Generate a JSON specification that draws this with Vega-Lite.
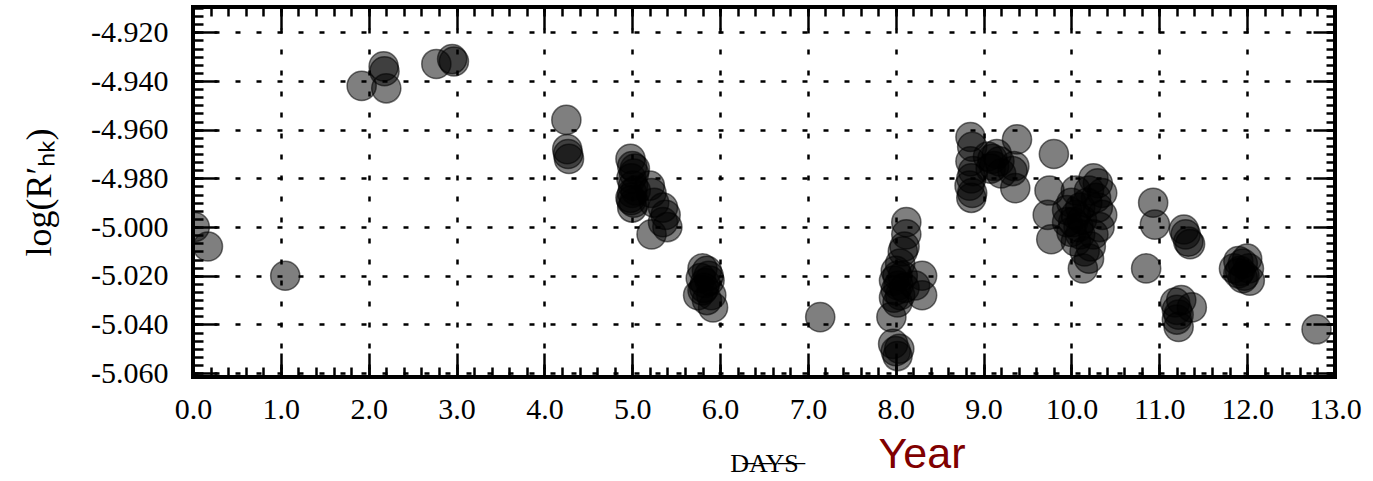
{
  "$schema": "https://vega.github.io/schema/vega-lite/v6.json",
  "width": 1142,
  "height": 370,
  "autosize": "none",
  "padding": {"left": 193, "top": 7, "right": 38, "bottom": 104},
  "background": "white",
  "config": {
    "view": {"stroke": "black", "strokeWidth": 4},
    "axis": {
      "domain": false,
      "labelFont": "Liberation Serif",
      "labelFontSize": 30,
      "labelColor": "black",
      "titleFont": "Liberation Serif",
      "titleColor": "black",
      "titleFontWeight": "normal",
      "tickColor": "black",
      "tickWidth": 2.5
    }
  },
  "title": {
    "text": "Year",
    "orient": "bottom",
    "anchor": "middle",
    "dx": 158,
    "offset": -42,
    "font": "Liberation Sans",
    "fontSize": 43,
    "fontWeight": "normal",
    "color": "#800000"
  },
  "data": {
    "values": [
      {"year": 0.02, "logRHK": -5.000}, {"year": 0.17, "logRHK": -5.008},
      {"year": 1.05, "logRHK": -5.020},
      {"year": 1.92, "logRHK": -4.942}, {"year": 2.17, "logRHK": -4.934}, {"year": 2.18, "logRHK": -4.936}, {"year": 2.20, "logRHK": -4.943},
      {"year": 2.77, "logRHK": -4.933}, {"year": 2.95, "logRHK": -4.931}, {"year": 2.97, "logRHK": -4.932},
      {"year": 4.25, "logRHK": -4.956}, {"year": 4.26, "logRHK": -4.968}, {"year": 4.28, "logRHK": -4.972}, {"year": 4.27, "logRHK": -4.970},
      {"year": 4.98, "logRHK": -4.972}, {"year": 5.00, "logRHK": -4.975}, {"year": 5.02, "logRHK": -4.978}, {"year": 4.99, "logRHK": -4.980},
      {"year": 5.01, "logRHK": -4.983}, {"year": 5.00, "logRHK": -4.986}, {"year": 4.98, "logRHK": -4.988}, {"year": 5.02, "logRHK": -4.990},
      {"year": 5.00, "logRHK": -4.992}, {"year": 5.03, "logRHK": -4.976}, {"year": 5.04, "logRHK": -4.985}, {"year": 4.99, "logRHK": -4.989},
      {"year": 5.20, "logRHK": -4.983}, {"year": 5.22, "logRHK": -4.986}, {"year": 5.25, "logRHK": -4.990}, {"year": 5.35, "logRHK": -4.992},
      {"year": 5.38, "logRHK": -4.995}, {"year": 5.22, "logRHK": -5.003}, {"year": 5.40, "logRHK": -5.000}, {"year": 5.35, "logRHK": -4.998},
      {"year": 5.80, "logRHK": -5.017}, {"year": 5.85, "logRHK": -5.018}, {"year": 5.78, "logRHK": -5.021}, {"year": 5.83, "logRHK": -5.023},
      {"year": 5.88, "logRHK": -5.022}, {"year": 5.80, "logRHK": -5.026}, {"year": 5.75, "logRHK": -5.028}, {"year": 5.90, "logRHK": -5.028},
      {"year": 5.85, "logRHK": -5.030}, {"year": 5.92, "logRHK": -5.033}, {"year": 5.82, "logRHK": -5.025}, {"year": 5.87, "logRHK": -5.020},
      {"year": 7.14, "logRHK": -5.037},
      {"year": 8.12, "logRHK": -4.998}, {"year": 8.12, "logRHK": -5.003}, {"year": 8.10, "logRHK": -5.008}, {"year": 8.08, "logRHK": -5.010},
      {"year": 8.05, "logRHK": -5.015}, {"year": 8.00, "logRHK": -5.018}, {"year": 8.02, "logRHK": -5.020}, {"year": 7.98, "logRHK": -5.022},
      {"year": 8.03, "logRHK": -5.024}, {"year": 8.00, "logRHK": -5.026}, {"year": 8.05, "logRHK": -5.028}, {"year": 7.98, "logRHK": -5.029},
      {"year": 8.02, "logRHK": -5.031}, {"year": 8.08, "logRHK": -5.020}, {"year": 8.10, "logRHK": -5.025}, {"year": 8.30, "logRHK": -5.020},
      {"year": 8.30, "logRHK": -5.028}, {"year": 8.22, "logRHK": -5.024}, {"year": 7.95, "logRHK": -5.037}, {"year": 7.97, "logRHK": -5.048},
      {"year": 8.00, "logRHK": -5.051}, {"year": 8.02, "logRHK": -5.053}, {"year": 8.04, "logRHK": -5.050},
      {"year": 8.85, "logRHK": -4.963}, {"year": 8.87, "logRHK": -4.967}, {"year": 8.85, "logRHK": -4.973}, {"year": 8.88, "logRHK": -4.977},
      {"year": 8.86, "logRHK": -4.980}, {"year": 8.84, "logRHK": -4.983}, {"year": 8.87, "logRHK": -4.986}, {"year": 8.86, "logRHK": -4.988},
      {"year": 9.05, "logRHK": -4.971}, {"year": 9.10, "logRHK": -4.972}, {"year": 9.15, "logRHK": -4.970}, {"year": 9.12, "logRHK": -4.975},
      {"year": 9.18, "logRHK": -4.973}, {"year": 9.20, "logRHK": -4.978}, {"year": 9.08, "logRHK": -4.976}, {"year": 9.38, "logRHK": -4.964},
      {"year": 9.35, "logRHK": -4.975}, {"year": 9.33, "logRHK": -4.977}, {"year": 9.36, "logRHK": -4.984},
      {"year": 9.80, "logRHK": -4.970}, {"year": 9.75, "logRHK": -4.985}, {"year": 9.73, "logRHK": -4.995}, {"year": 9.77, "logRHK": -5.005},
      {"year": 9.95, "logRHK": -4.993}, {"year": 10.00, "logRHK": -4.990}, {"year": 10.05, "logRHK": -4.995}, {"year": 10.02, "logRHK": -4.998},
      {"year": 10.08, "logRHK": -5.000}, {"year": 10.10, "logRHK": -4.992}, {"year": 10.12, "logRHK": -4.997}, {"year": 10.00, "logRHK": -5.002},
      {"year": 10.05, "logRHK": -5.006}, {"year": 10.10, "logRHK": -5.003}, {"year": 10.15, "logRHK": -5.010}, {"year": 10.13, "logRHK": -5.017},
      {"year": 10.20, "logRHK": -5.013}, {"year": 10.20, "logRHK": -4.985}, {"year": 10.25, "logRHK": -4.980}, {"year": 10.30, "logRHK": -4.982},
      {"year": 10.28, "logRHK": -4.988}, {"year": 10.35, "logRHK": -4.986}, {"year": 10.30, "logRHK": -4.992}, {"year": 10.35, "logRHK": -4.995},
      {"year": 10.25, "logRHK": -5.003}, {"year": 10.22, "logRHK": -5.008}, {"year": 10.18, "logRHK": -4.990}, {"year": 10.05, "logRHK": -4.985},
      {"year": 9.95, "logRHK": -4.998}, {"year": 10.32, "logRHK": -5.000},
      {"year": 10.93, "logRHK": -4.990}, {"year": 10.95, "logRHK": -4.999}, {"year": 10.85, "logRHK": -5.017}, {"year": 11.28, "logRHK": -5.001},
      {"year": 11.30, "logRHK": -5.003}, {"year": 11.33, "logRHK": -5.006}, {"year": 11.35, "logRHK": -5.007}, {"year": 11.18, "logRHK": -5.031},
      {"year": 11.20, "logRHK": -5.034}, {"year": 11.22, "logRHK": -5.036}, {"year": 11.20, "logRHK": -5.038}, {"year": 11.22, "logRHK": -5.041},
      {"year": 11.25, "logRHK": -5.030}, {"year": 11.37, "logRHK": -5.033},
      {"year": 11.85, "logRHK": -5.017}, {"year": 11.90, "logRHK": -5.014}, {"year": 11.95, "logRHK": -5.015}, {"year": 12.00, "logRHK": -5.013},
      {"year": 11.92, "logRHK": -5.018}, {"year": 11.97, "logRHK": -5.020}, {"year": 12.02, "logRHK": -5.017}, {"year": 12.03, "logRHK": -5.022},
      {"year": 11.95, "logRHK": -5.021}, {"year": 11.90, "logRHK": -5.019},
      {"year": 12.79, "logRHK": -5.042}
    ]
  },
  "layer": [
    {
      "mark": {"type": "circle", "size": 850, "color": "black", "fillOpacity": 0.5, "stroke": "black", "strokeOpacity": 0.55, "strokeWidth": 1.5, "clip": true},
      "encoding": {
        "x": {
          "field": "year", "type": "quantitative",
          "scale": {"domain": [0, 13], "nice": false, "zero": false},
          "axis": {
            "orient": "bottom",
            "values": [0, 1, 2, 3, 4, 5, 6, 7, 8, 9, 10, 11, 12, 13],
            "format": ".1f",
            "ticks": false,
            "labelPadding": 17,
            "labelFlush": false,
            "grid": true, "gridColor": "black", "gridDash": [5, 16], "gridWidth": 2.5,
            "title": "D̶A̶Y̶S̶",
            "titleFontSize": 26,
            "titlePadding": 26
          }
        },
        "y": {
          "field": "logRHK", "type": "quantitative",
          "scale": {"domain": [-5.0616, -4.9096], "nice": false, "zero": false},
          "axis": {
            "orient": "left",
            "values": [-5.06, -5.04, -5.02, -5.0, -4.98, -4.96, -4.94, -4.92],
            "labelExpr": "replace(format(datum.value, '.3f'), '−', '-')",
            "ticks": false,
            "labelPadding": 25,
            "labelFlush": false,
            "grid": true, "gridColor": "black", "gridDash": [5, 16], "gridWidth": 2.5,
            "title": "log(R′ₕₖ)",
            "titleFontSize": 36,
            "titlePadding": 32
          }
        }
      }
    },
    {
      "mark": {"type": "circle", "opacity": 0},
      "encoding": {
        "x": {"field": "year", "type": "quantitative", "axis": {"orient": "bottom", "values": [0, 1, 2, 3, 4, 5, 6, 7, 8, 9, 10, 11, 12, 13], "labels": false, "grid": false, "tickSize": -24, "title": null}},
        "y": {"field": "logRHK", "type": "quantitative", "axis": {"orient": "left", "values": [-5.06, -5.04, -5.02, -5.0, -4.98, -4.96, -4.94, -4.92], "labels": false, "grid": false, "tickSize": -24, "title": null}}
      }
    },
    {
      "mark": {"type": "circle", "opacity": 0},
      "encoding": {
        "x": {"field": "year", "type": "quantitative", "axis": {"orient": "top", "values": [0, 1, 2, 3, 4, 5, 6, 7, 8, 9, 10, 11, 12, 13], "labels": false, "grid": false, "tickSize": -22, "title": null}},
        "y": {"field": "logRHK", "type": "quantitative", "axis": {"orient": "right", "values": [-5.06, -5.04, -5.02, -5.0, -4.98, -4.96, -4.94, -4.92], "labels": false, "grid": false, "tickSize": -22, "title": null}}
      }
    },
    {
      "mark": {"type": "circle", "opacity": 0},
      "encoding": {
        "x": {"field": "year", "type": "quantitative", "axis": {"orient": "bottom", "values": [0, 0.2, 0.4, 0.6, 0.8, 1, 1.2, 1.4, 1.6, 1.8, 2, 2.2, 2.4, 2.6, 2.8, 3, 3.2, 3.4, 3.6, 3.8, 4, 4.2, 4.4, 4.6, 4.8, 5, 5.2, 5.4, 5.6, 5.8, 6, 6.2, 6.4, 6.6, 6.8, 7, 7.2, 7.4, 7.6, 7.8, 8, 8.2, 8.4, 8.6, 8.8, 9, 9.2, 9.4, 9.6, 9.8, 10, 10.2, 10.4, 10.6, 10.8, 11, 11.2, 11.4, 11.6, 11.8, 12, 12.2, 12.4, 12.6, 12.8, 13], "labels": false, "grid": false, "tickSize": -10, "title": null}},
        "y": {"field": "logRHK", "type": "quantitative", "axis": {"orient": "left", "values": [-5.06, -5.05667, -5.05333, -5.05, -5.04667, -5.04333, -5.04, -5.03667, -5.03333, -5.03, -5.02667, -5.02333, -5.02, -5.01667, -5.01333, -5.01, -5.00667, -5.00333, -5.0, -4.99667, -4.99333, -4.99, -4.98667, -4.98333, -4.98, -4.97667, -4.97333, -4.97, -4.96667, -4.96333, -4.96, -4.95667, -4.95333, -4.95, -4.94667, -4.94333, -4.94, -4.93667, -4.93333, -4.93, -4.92667, -4.92333, -4.92, -4.91667, -4.91333, -4.91], "labels": false, "grid": false, "tickSize": -10, "title": null}}
      }
    },
    {
      "mark": {"type": "circle", "opacity": 0},
      "encoding": {
        "x": {"field": "year", "type": "quantitative", "axis": {"orient": "top", "values": [0, 0.2, 0.4, 0.6, 0.8, 1, 1.2, 1.4, 1.6, 1.8, 2, 2.2, 2.4, 2.6, 2.8, 3, 3.2, 3.4, 3.6, 3.8, 4, 4.2, 4.4, 4.6, 4.8, 5, 5.2, 5.4, 5.6, 5.8, 6, 6.2, 6.4, 6.6, 6.8, 7, 7.2, 7.4, 7.6, 7.8, 8, 8.2, 8.4, 8.6, 8.8, 9, 9.2, 9.4, 9.6, 9.8, 10, 10.2, 10.4, 10.6, 10.8, 11, 11.2, 11.4, 11.6, 11.8, 12, 12.2, 12.4, 12.6, 12.8, 13], "labels": false, "grid": false, "tickSize": -9, "title": null}},
        "y": {"field": "logRHK", "type": "quantitative", "axis": {"orient": "right", "values": [-5.06, -5.05667, -5.05333, -5.05, -5.04667, -5.04333, -5.04, -5.03667, -5.03333, -5.03, -5.02667, -5.02333, -5.02, -5.01667, -5.01333, -5.01, -5.00667, -5.00333, -5.0, -4.99667, -4.99333, -4.99, -4.98667, -4.98333, -4.98, -4.97667, -4.97333, -4.97, -4.96667, -4.96333, -4.96, -4.95667, -4.95333, -4.95, -4.94667, -4.94333, -4.94, -4.93667, -4.93333, -4.93, -4.92667, -4.92333, -4.92, -4.91667, -4.91333, -4.91], "labels": false, "grid": false, "tickSize": -9, "title": null}}
      }
    }
  ],
  "resolve": {"axis": {"x": "independent", "y": "independent"}}
}
